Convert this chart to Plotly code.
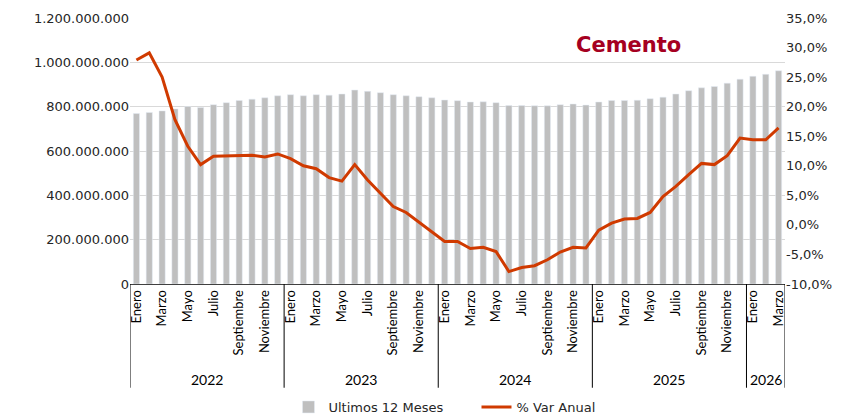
import plotly.graph_objects as go

# Datos: Cemento, despachos ultimos 12 meses y variacion anual
years = ["2022", "2023", "2024", "2025", "2026"]
months_per_year = [12, 12, 12, 12, 3]
month_names = ["Enero", "Febrero", "Marzo", "Abril", "Mayo", "Junio", "Julio",
               "Agosto", "Septiembre", "Octubre", "Noviembre", "Diciembre"]

ultimos_12 = [
    769e6, 774e6, 781e6, 790e6, 801e6, 796e6, 809e6, 818e6, 828e6, 834e6, 840e6, 849e6,
    854e6, 849e6, 854e6, 852e6, 857e6, 875e6, 869e6, 863e6, 854e6, 849e6, 845e6, 840e6,
    830e6, 827e6, 821e6, 822e6, 818e6, 805e6, 805e6, 804e6, 804e6, 809e6, 812e6, 807e6,
    821e6, 828e6, 828e6, 829e6, 836e6, 843e6, 857e6, 872e6, 885e6, 891e6, 906e6, 924e6,
    937e6, 946e6, 962e6,
]
var_anual = [
    27.9, 29.1, 25.0, 17.8, 13.3, 10.2, 11.6, 11.7, 11.7, 11.8, 11.5, 12.0,
    11.2, 10.0, 9.5, 8.0, 7.4, 10.2, 7.6, 5.4, 3.1, 2.1, 0.5, -1.1,
    -2.8, -2.8, -4.0, -3.8, -4.5, -7.9, -7.2, -6.9, -5.9, -4.6, -3.8, -3.9,
    -0.9, 0.3, 1.0, 1.1, 2.1, 4.8, 6.5, 8.5, 10.4, 10.2, 11.7, 14.7,
    14.4, 14.4, 16.4,
]
pct_ticks = [-10, -5, 0, 5, 10, 15, 20, 25, 30, 35]
pct_labels = [f"{v:.1f}%".replace(".", ",") for v in pct_ticks]

x_idx = list(range(len(ultimos_12)))
labels = []
for n in months_per_year:
    labels += month_names[:n]
tick_vals = [i for i in x_idx if i % 2 == 0]
tick_text = [labels[i] for i in tick_vals]

fig = go.Figure()

fig.add_trace(go.Bar(
    x=x_idx, y=ultimos_12,
    name="Ultimos 12 Meses",
    marker_color="#BFBFBF",
    width=0.48,
))
fig.add_trace(go.Scatter(
    x=x_idx, y=var_anual,
    name="% Var Anual",
    mode="lines",
    line=dict(color="#D03A00", width=3),
    yaxis="y2",
))

# separadores y etiquetas de año
start = 0
bounds = [-0.5]
for yr, n in zip(years, months_per_year):
    fig.add_annotation(
        x=start + (n - 1) / 2, y=-0.36, xref="x", yref="paper",
        text=yr, showarrow=False, xanchor="center", yanchor="middle",
        font=dict(family="Lato", size=14, color="#000000"),
    )
    start += n
    bounds.append(start - 0.5)
for b in bounds:
    fig.add_shape(type="line", xref="x", yref="paper",
                  x0=b, x1=b, y0=0, y1=-0.39,
                  line=dict(color="#000000", width=1))

# titulo dentro del grafico
fig.add_annotation(
    x=(628 - 130) / 655, y=(284 - 45) / 266, xref="paper", yref="paper",
    text="<b>Cemento</b>", showarrow=False,
    xanchor="center", yanchor="middle",
    font=dict(family="DejaVu Sans", size=21, color="#A50021"),
)

# la pagina tiene 8px de margen en el body
fig.update_layout(
    width=842, height=406,
    margin=dict(l=122, r=65, t=10, b=130),
    plot_bgcolor="white", paper_bgcolor="white",
    separators=",.",
    bargap=0.5,
    font=dict(family="DejaVu Sans", size=13, color="#262626"),
    xaxis=dict(
        range=[-0.5, len(x_idx) - 0.5],
        tickmode="array", tickvals=tick_vals, ticktext=tick_text,
        tickangle=-90, ticks="",
        tickfont=dict(family="Lato", size=13, color="#000000"),
        showline=True, linecolor="#404040", linewidth=1,
        showgrid=False, zeroline=False, automargin=False,
    ),
    yaxis=dict(
        range=[0, 1.2e9], dtick=2e8, tickformat=",d",
        showgrid=True, gridcolor="#D9D9D9", zeroline=False,
        tickfont=dict(size=13), automargin=False,
    ),
    yaxis2=dict(
        range=[-10, 35], tickmode="array",
        tickvals=pct_ticks, ticktext=pct_labels,
        overlaying="y", side="right", showgrid=False, zeroline=False,
        tickfont=dict(size=13), automargin=False,
    ),
    legend=dict(
        orientation="h", x=0.529, xanchor="center",
        yref="container", y=1 - 399 / 406, yanchor="middle",
        entrywidth=143, entrywidthmode="pixels",
        font=dict(size=13, color="#262626"),
    ),
)

fig.write_html("out.html")
